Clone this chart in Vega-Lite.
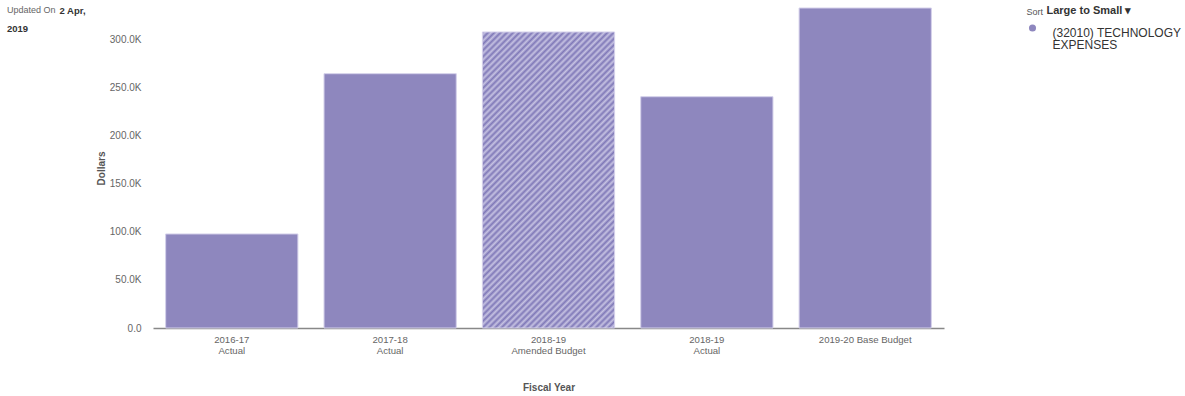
{
  "$schema": "https://vega.github.io/schema/vega-lite/v6.json",
  "width": 791,
  "height": 320,
  "autosize": {"type": "none"},
  "padding": {"left": 153, "top": 8, "right": 241, "bottom": 68},
  "background": "white",
  "title": {
    "text": "Updated On",
    "subtitle": "2019",
    "anchor": "start",
    "frame": "group",
    "orient": "top",
    "offset": 0,
    "dx": -146,
    "dy": 28,
    "font": "Liberation Sans",
    "fontSize": 9,
    "fontWeight": "normal",
    "color": "#666",
    "subtitleFont": "Liberation Sans",
    "subtitleFontSize": 9.5,
    "subtitleFontWeight": "bold",
    "subtitleColor": "#333",
    "subtitlePadding": 8.8
  },
  "data": {
    "values": [
      {"fiscal_year": "2016-17 Actual", "budget_type": "Actual", "account": "(32010) TECHNOLOGY EXPENSES", "dollars": 97600},
      {"fiscal_year": "2017-18 Actual", "budget_type": "Actual", "account": "(32010) TECHNOLOGY EXPENSES", "dollars": 264000},
      {"fiscal_year": "2018-19 Amended Budget", "budget_type": "Amended Budget", "account": "(32010) TECHNOLOGY EXPENSES", "dollars": 307300},
      {"fiscal_year": "2018-19 Actual", "budget_type": "Actual", "account": "(32010) TECHNOLOGY EXPENSES", "dollars": 240100},
      {"fiscal_year": "2019-20 Base Budget", "budget_type": "Base Budget", "account": "(32010) TECHNOLOGY EXPENSES", "dollars": 332200}
    ]
  },
  "layer": [
    {
      "transform": [{"filter": "datum.budget_type !== 'Amended Budget'"}],
      "mark": {"type": "bar", "stroke": "#d4d0ea", "strokeWidth": 1},
      "encoding": {
        "x": {
          "field": "fiscal_year",
          "type": "nominal",
          "title": "Fiscal Year",
          "scale": {
            "domain": ["2016-17 Actual", "2017-18 Actual", "2018-19 Amended Budget", "2018-19 Actual", "2019-20 Base Budget"],
            "paddingInner": 0.165,
            "paddingOuter": 0.08
          },
          "axis": {
            "orient": "bottom",
            "labelAngle": 0,
            "labelExpr": "indexof(datum.value, 'Base') >= 0 ? datum.value : [substring(datum.value, 0, 7), substring(datum.value, 8)]",
            "labelFont": "Liberation Sans",
            "labelFontSize": 9.6,
            "labelColor": "#666",
            "labelLineHeight": 11,
            "labelPadding": 6,
            "ticks": false,
            "domainColor": "#888",
            "domainWidth": 1.5,
            "grid": false,
            "titleFont": "Liberation Sans",
            "titleFontSize": 10,
            "titleFontWeight": "bold",
            "titleColor": "#555",
            "titlePadding": 28
          }
        },
        "y": {
          "field": "dollars",
          "type": "quantitative",
          "title": "Dollars",
          "scale": {"domain": [0, 332200], "nice": false},
          "axis": {
            "values": [0, 50000, 100000, 150000, 200000, 250000, 300000],
            "labelExpr": "datum.value == 0 ? '0.0' : format(datum.value / 1000, '.1f') + 'K'",
            "labelFont": "Liberation Sans",
            "labelFontSize": 10,
            "labelColor": "#666",
            "labelPadding": 12,
            "ticks": false,
            "domain": false,
            "grid": false,
            "titleFont": "Liberation Sans",
            "titleFontSize": 10,
            "titleFontWeight": "bold",
            "titleColor": "#555",
            "titlePadding": 3
          }
        },
        "fill": {
          "field": "account",
          "type": "nominal",
          "scale": {"range": ["#8E87BE"]},
          "legend": {
            "title": "Large to Small \u25be",
            "orient": "none",
            "legendX": 893.5,
            "legendY": -3,
            "titleFont": "Liberation Sans",
            "titleFontSize": 11,
            "titleFontWeight": "bold",
            "titleColor": "#333",
            "titlePadding": 6,
            "symbolType": "circle",
            "symbolSize": 50,
            "symbolStrokeWidth": 0,
            "symbolFillColor": "#7168b4",
            "symbolOffset": -20,
            "labelOffset": 14,
            "labelFont": "Liberation Sans",
            "labelFontSize": 12,
            "labelColor": "#333",
            "labelBaseline": "top",
            "labelLimit": 200,
            "labelExpr": "[substring(datum.value, 0, 18), substring(datum.value, 19)]",
            "encode": {
              "symbols": {"update": {"fill": {"value": "#7168b4"}}}
            }
          }
        }
      }
    },
    {
      "transform": [{"filter": "datum.budget_type === 'Amended Budget'"}],
      "mark": {
        "type": "bar",
        "stroke": "#d4d0ea",
        "strokeWidth": 1,
        "fill": {
          "gradient": "linear",
          "x1": 0, "y1": 0, "x2": 0.5395, "y2": 1.2051,
          "stops": [
            {"offset": 0, "color": "#8079b8"}, {"offset": 0.0074, "color": "#c6c2e2"}, {"offset": 0.0147, "color": "#8079b8"}, {"offset": 0.0221, "color": "#c6c2e2"},
            {"offset": 0.0294, "color": "#8079b8"}, {"offset": 0.0368, "color": "#c6c2e2"}, {"offset": 0.0441, "color": "#8079b8"}, {"offset": 0.0515, "color": "#c6c2e2"},
            {"offset": 0.0588, "color": "#8079b8"}, {"offset": 0.0662, "color": "#c6c2e2"}, {"offset": 0.0735, "color": "#8079b8"}, {"offset": 0.0809, "color": "#c6c2e2"},
            {"offset": 0.0882, "color": "#8079b8"}, {"offset": 0.0956, "color": "#c6c2e2"}, {"offset": 0.1029, "color": "#8079b8"}, {"offset": 0.1103, "color": "#c6c2e2"},
            {"offset": 0.1176, "color": "#8079b8"}, {"offset": 0.125, "color": "#c6c2e2"}, {"offset": 0.1324, "color": "#8079b8"}, {"offset": 0.1397, "color": "#c6c2e2"},
            {"offset": 0.1471, "color": "#8079b8"}, {"offset": 0.1544, "color": "#c6c2e2"}, {"offset": 0.1618, "color": "#8079b8"}, {"offset": 0.1691, "color": "#c6c2e2"},
            {"offset": 0.1765, "color": "#8079b8"}, {"offset": 0.1838, "color": "#c6c2e2"}, {"offset": 0.1912, "color": "#8079b8"}, {"offset": 0.1985, "color": "#c6c2e2"},
            {"offset": 0.2059, "color": "#8079b8"}, {"offset": 0.2132, "color": "#c6c2e2"}, {"offset": 0.2206, "color": "#8079b8"}, {"offset": 0.2279, "color": "#c6c2e2"},
            {"offset": 0.2353, "color": "#8079b8"}, {"offset": 0.2426, "color": "#c6c2e2"}, {"offset": 0.25, "color": "#8079b8"}, {"offset": 0.2574, "color": "#c6c2e2"},
            {"offset": 0.2647, "color": "#8079b8"}, {"offset": 0.2721, "color": "#c6c2e2"}, {"offset": 0.2794, "color": "#8079b8"}, {"offset": 0.2868, "color": "#c6c2e2"},
            {"offset": 0.2941, "color": "#8079b8"}, {"offset": 0.3015, "color": "#c6c2e2"}, {"offset": 0.3088, "color": "#8079b8"}, {"offset": 0.3162, "color": "#c6c2e2"},
            {"offset": 0.3235, "color": "#8079b8"}, {"offset": 0.3309, "color": "#c6c2e2"}, {"offset": 0.3382, "color": "#8079b8"}, {"offset": 0.3456, "color": "#c6c2e2"},
            {"offset": 0.3529, "color": "#8079b8"}, {"offset": 0.3603, "color": "#c6c2e2"}, {"offset": 0.3676, "color": "#8079b8"}, {"offset": 0.375, "color": "#c6c2e2"},
            {"offset": 0.3824, "color": "#8079b8"}, {"offset": 0.3897, "color": "#c6c2e2"}, {"offset": 0.3971, "color": "#8079b8"}, {"offset": 0.4044, "color": "#c6c2e2"},
            {"offset": 0.4118, "color": "#8079b8"}, {"offset": 0.4191, "color": "#c6c2e2"}, {"offset": 0.4265, "color": "#8079b8"}, {"offset": 0.4338, "color": "#c6c2e2"},
            {"offset": 0.4412, "color": "#8079b8"}, {"offset": 0.4485, "color": "#c6c2e2"}, {"offset": 0.4559, "color": "#8079b8"}, {"offset": 0.4632, "color": "#c6c2e2"},
            {"offset": 0.4706, "color": "#8079b8"}, {"offset": 0.4779, "color": "#c6c2e2"}, {"offset": 0.4853, "color": "#8079b8"}, {"offset": 0.4926, "color": "#c6c2e2"},
            {"offset": 0.5, "color": "#8079b8"}, {"offset": 0.5074, "color": "#c6c2e2"}, {"offset": 0.5147, "color": "#8079b8"}, {"offset": 0.5221, "color": "#c6c2e2"},
            {"offset": 0.5294, "color": "#8079b8"}, {"offset": 0.5368, "color": "#c6c2e2"}, {"offset": 0.5441, "color": "#8079b8"}, {"offset": 0.5515, "color": "#c6c2e2"},
            {"offset": 0.5588, "color": "#8079b8"}, {"offset": 0.5662, "color": "#c6c2e2"}, {"offset": 0.5735, "color": "#8079b8"}, {"offset": 0.5809, "color": "#c6c2e2"},
            {"offset": 0.5882, "color": "#8079b8"}, {"offset": 0.5956, "color": "#c6c2e2"}, {"offset": 0.6029, "color": "#8079b8"}, {"offset": 0.6103, "color": "#c6c2e2"},
            {"offset": 0.6176, "color": "#8079b8"}, {"offset": 0.625, "color": "#c6c2e2"}, {"offset": 0.6324, "color": "#8079b8"}, {"offset": 0.6397, "color": "#c6c2e2"},
            {"offset": 0.6471, "color": "#8079b8"}, {"offset": 0.6544, "color": "#c6c2e2"}, {"offset": 0.6618, "color": "#8079b8"}, {"offset": 0.6691, "color": "#c6c2e2"},
            {"offset": 0.6765, "color": "#8079b8"}, {"offset": 0.6838, "color": "#c6c2e2"}, {"offset": 0.6912, "color": "#8079b8"}, {"offset": 0.6985, "color": "#c6c2e2"},
            {"offset": 0.7059, "color": "#8079b8"}, {"offset": 0.7132, "color": "#c6c2e2"}, {"offset": 0.7206, "color": "#8079b8"}, {"offset": 0.7279, "color": "#c6c2e2"},
            {"offset": 0.7353, "color": "#8079b8"}, {"offset": 0.7426, "color": "#c6c2e2"}, {"offset": 0.75, "color": "#8079b8"}, {"offset": 0.7574, "color": "#c6c2e2"},
            {"offset": 0.7647, "color": "#8079b8"}, {"offset": 0.7721, "color": "#c6c2e2"}, {"offset": 0.7794, "color": "#8079b8"}, {"offset": 0.7868, "color": "#c6c2e2"},
            {"offset": 0.7941, "color": "#8079b8"}, {"offset": 0.8015, "color": "#c6c2e2"}, {"offset": 0.8088, "color": "#8079b8"}, {"offset": 0.8162, "color": "#c6c2e2"},
            {"offset": 0.8235, "color": "#8079b8"}, {"offset": 0.8309, "color": "#c6c2e2"}, {"offset": 0.8382, "color": "#8079b8"}, {"offset": 0.8456, "color": "#c6c2e2"},
            {"offset": 0.8529, "color": "#8079b8"}, {"offset": 0.8603, "color": "#c6c2e2"}, {"offset": 0.8676, "color": "#8079b8"}, {"offset": 0.875, "color": "#c6c2e2"},
            {"offset": 0.8824, "color": "#8079b8"}, {"offset": 0.8897, "color": "#c6c2e2"}, {"offset": 0.8971, "color": "#8079b8"}, {"offset": 0.9044, "color": "#c6c2e2"},
            {"offset": 0.9118, "color": "#8079b8"}, {"offset": 0.9191, "color": "#c6c2e2"}, {"offset": 0.9265, "color": "#8079b8"}, {"offset": 0.9338, "color": "#c6c2e2"},
            {"offset": 0.9412, "color": "#8079b8"}, {"offset": 0.9485, "color": "#c6c2e2"}, {"offset": 0.9559, "color": "#8079b8"}, {"offset": 0.9632, "color": "#c6c2e2"},
            {"offset": 0.9706, "color": "#8079b8"}, {"offset": 0.9779, "color": "#c6c2e2"}, {"offset": 0.9853, "color": "#8079b8"}, {"offset": 0.9926, "color": "#c6c2e2"},
            {"offset": 1, "color": "#8079b8"}
          ]
        }
      },
      "encoding": {
        "x": {
          "field": "fiscal_year",
          "type": "nominal",
          "scale": {
            "domain": ["2016-17 Actual", "2017-18 Actual", "2018-19 Amended Budget", "2018-19 Actual", "2019-20 Base Budget"],
            "paddingInner": 0.165,
            "paddingOuter": 0.08
          },
          "axis": {
            "orient": "top",
            "title": "2 Apr,",
            "titleAngle": 0,
            "titleAlign": "left",
            "titleBaseline": "middle",
            "titleX": -94,
            "titleY": 2,
            "titleFont": "Liberation Sans",
            "titleFontSize": 9.5,
            "titleFontWeight": "bold",
            "titleColor": "#333",
            "labels": false,
            "ticks": false,
            "domain": false,
            "grid": false
          }
        },
        "y": {
          "field": "dollars",
          "type": "quantitative",
          "scale": {"domain": [0, 332200], "nice": false},
          "axis": {
            "orient": "right",
            "title": "Sort",
            "titleAngle": 0,
            "titleAlign": "left",
            "titleBaseline": "middle",
            "titleX": 82,
            "titleY": 3,
            "titleFont": "Liberation Sans",
            "titleFontSize": 9,
            "titleFontWeight": "normal",
            "titleColor": "#555",
            "labels": false,
            "ticks": false,
            "domain": false,
            "grid": false
          }
        }
      }
    }
  ],
  "resolve": {"scale": {"y": "independent"}, "axis": {"x": "independent"}},
  "config": {
    "view": {"stroke": null},
    "style": {"guide-label": {"lineHeight": 12}}
  }
}
